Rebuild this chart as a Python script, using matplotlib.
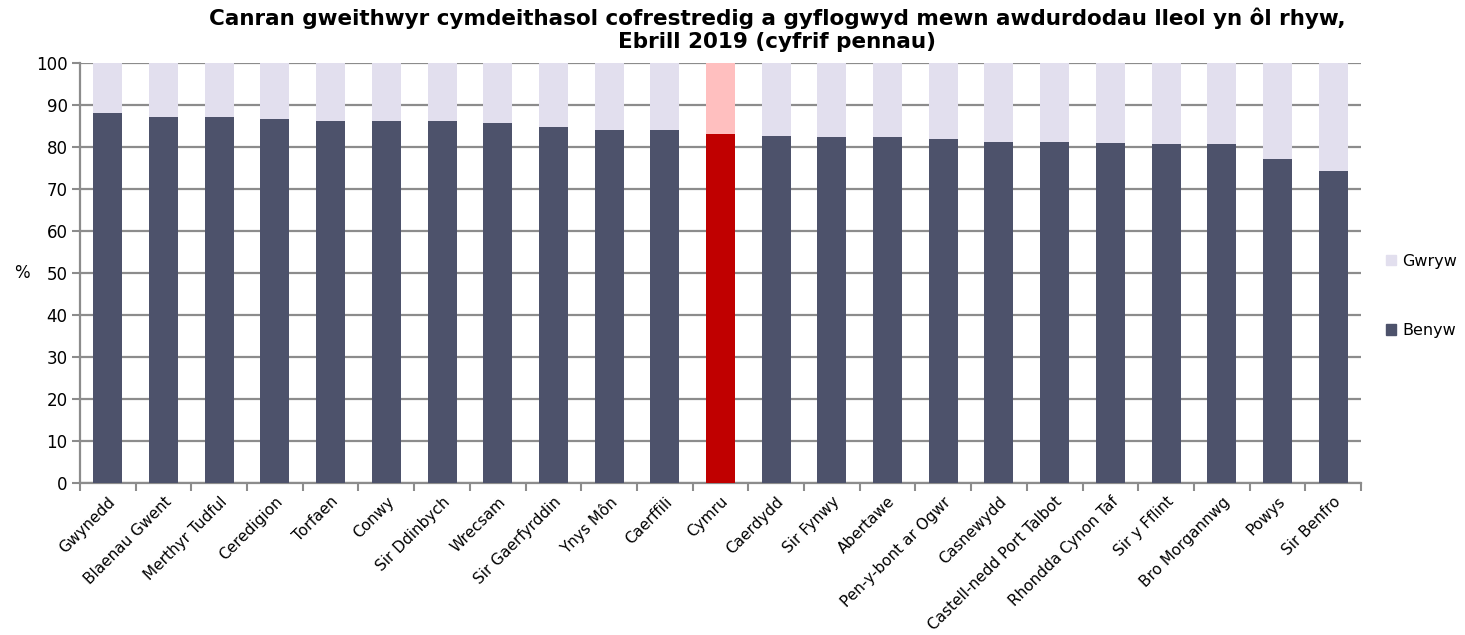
import matplotlib
matplotlib.use("Agg")
import matplotlib.pyplot as plt
import numpy as np
from matplotlib.patches import Patch

categories = ["Gwynedd", "Blaenau Gwent", "Merthyr Tudful", "Ceredigion", "Torfaen", "Conwy",
              "Sir Ddinbych", "Wrecsam", "Sir Gaerfyrddin", "Ynys Môn", "Caerffili", "Cymru",
              "Caerdydd", "Sir Fynwy", "Abertawe", "Pen-y-bont ar Ogwr", "Casnewydd",
              "Castell-nedd Port Talbot", "Rhondda Cynon Taf", "Sir y Fflint", "Bro Morgannwg",
              "Powys", "Sir Benfro"]
benyw = [88.1, 87.1, 87.1, 86.7, 86.3, 86.3, 86.1, 85.6, 84.8, 84.0, 84.0, 83.0,
         82.7, 82.5, 82.3, 82.0, 81.3, 81.3, 81.0, 80.8, 80.8, 77.1, 74.4]
gwryw = [100 - v for v in benyw]
highlight = "Cymru"

dark = "#4D526B"
light = "#E2DFEE"
red = "#C00000"
pink = "#FFBFBF"

plt.rcParams['font.family'] = ['DejaVu Sans']
fig = plt.figure(figsize=(14.65, 6.35), dpi=100)
ax = fig.add_axes([80/1465, 1-483/635, (1361-80)/1465, (483-63)/635])

x = np.arange(len(categories))
c1 = [red if c == highlight else dark for c in categories]
c2 = [pink if c == highlight else light for c in categories]
ax.bar(x, benyw, width=0.52, color=c1, zorder=3)
ax.bar(x, gwryw, bottom=benyw, width=0.52, color=c2, zorder=3)

ax.set_xlim(-0.5, len(categories) - 0.5)
ax.set_ylim(0, 100)
ax.set_yticks(range(0, 101, 10))
ax.yaxis.grid(True, color="#8C8C8C", linewidth=1.6, zorder=0)
ax.set_axisbelow(True)
for s in ["top", "right"]:
    ax.spines[s].set_visible(False)
for s in ["left", "bottom"]:
    ax.spines[s].set_color("#8C8C8C")
    ax.spines[s].set_linewidth(1.6)
ax.tick_params(axis='y', length=6, width=1.5, color="#8C8C8C", labelsize=12, pad=3)
ax.set_xticks(x)
ax.set_xticklabels(categories, rotation=45, ha='right', rotation_mode='anchor', fontsize=11)
ax.tick_params(axis='x', length=0, pad=8)
ax.set_xticks(np.arange(-0.5, len(categories), 1), minor=True)
ax.tick_params(axis='x', which='minor', length=6, width=1.5, color="#8C8C8C")

fig.text(22/1465, 1-273/635, "%", fontsize=12, ha='center', va='center')

fig.text(777/1465, 1-30/635, "Canran gweithwyr cymdeithasol cofrestredig a gyflogwyd mewn awdurdodau lleol yn ôl rhyw,\nEbrill 2019 (cyfrif pennau)",
         fontsize=15.5, fontweight='bold', ha='center', va='center', linespacing=1.2)

handles = [Patch(color=light, label="Gwryw"), Patch(color=dark, label="Benyw")]
fig.legend(handles=handles, loc='center left', bbox_to_anchor=(1386/1465, 1-296/635),
           frameon=False, fontsize=11.5, handlelength=0.6, handleheight=0.6,
           labelspacing=3.4, handletextpad=0.4, borderpad=0, borderaxespad=0)

fig.savefig("out.png", dpi=100)
